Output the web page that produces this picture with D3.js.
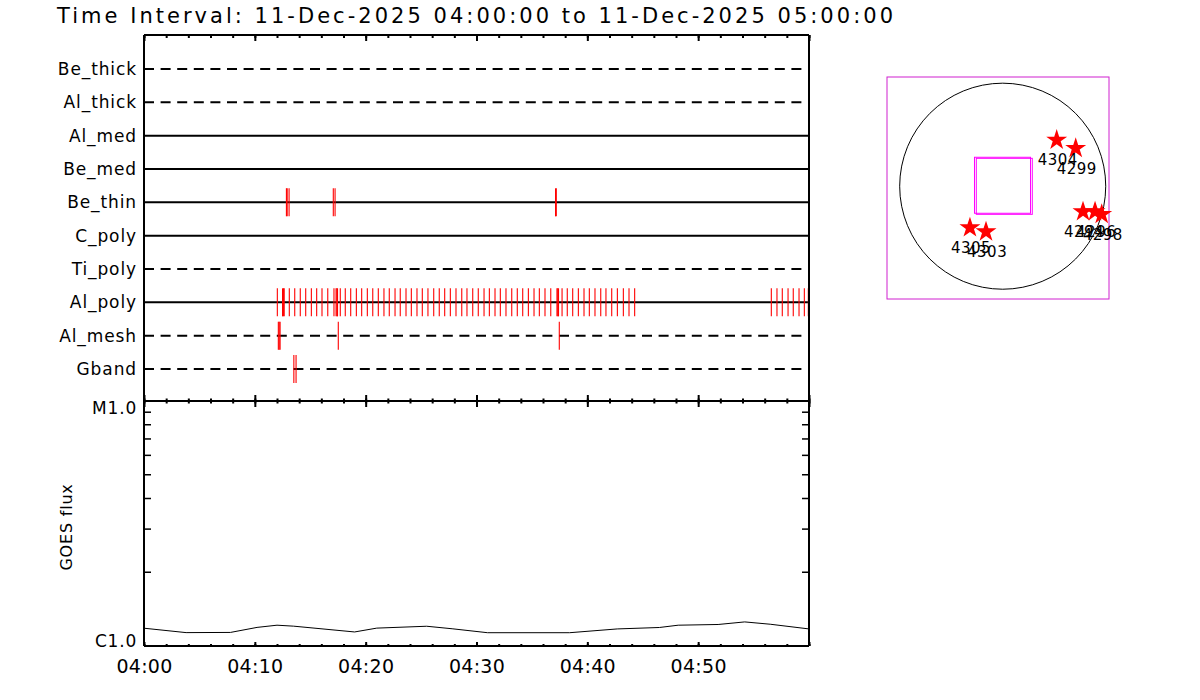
<!DOCTYPE html>
<html>
<head>
<meta charset="utf-8">
<script src="https://cdn.jsdelivr.net/npm/d3@7"></script>
<style>
  body { margin: 0; background: #fff; }
  text { font-family: "DejaVu Sans", sans-serif; fill: #000; }
</style>
</head>
<body>
<div id="chart"></div>
<script>
// ---- datos ----
const title = "Time Interval: 11-Dec-2025 04:00:00 to 11-Dec-2025 05:00:00";
const tStart = new Date("2025-12-11T04:00:00Z");
const tEnd = new Date("2025-12-11T05:00:00Z");

const channels = ["Be_thick", "Al_thick", "Al_med", "Be_med", "Be_thin",
                  "C_poly", "Ti_poly", "Al_poly", "Al_mesh", "Gband"];
// canales sin datos (linea a trazos)
const offChannels = ["Be_thick", "Al_thick", "Ti_poly", "Al_mesh", "Gband"];

// tiempos de eventos, minutos desde 04:00
const beThinEvents = [12.85, 12.92, 13.09, 17.08, 17.24, 37.13, 37.20];
const alPolyEvents = [12.03, 12.50, 12.58, 12.65, 13.11, 13.60, 14.10, 14.59, 15.10, 15.58,
  16.06, 16.58, 17.14, 17.33, 17.40, 17.46, 17.71, 18.16, 18.65, 19.16, 19.64, 20.15, 20.64,
  21.14, 21.65, 22.13, 22.65, 23.12, 23.64, 24.12, 24.63, 25.11, 25.62, 26.14, 26.64,
  27.13, 27.64, 28.15, 28.67, 29.14, 29.66, 30.16, 30.68, 31.16, 31.67, 32.15, 32.66,
  33.18, 33.68, 34.17, 34.68, 35.19, 35.67, 36.18, 36.70, 37.26, 37.33, 37.40, 37.72,
  38.19, 38.68, 39.19, 39.70, 40.18, 40.69, 41.21, 41.68, 42.20, 42.71, 43.25, 43.76,
  44.27, 56.60, 57.11, 57.59, 58.11, 58.58, 59.10, 59.58, 59.94];
const alMeshEvents = [12.12, 12.20, 12.28, 17.53, 37.47];
const gbandEvents = [13.52, 13.72];

// GOES, minutos desde 04:00 y flujo (W/m^2)
const goesMin  = [0, 3.8, 7.8, 10.2, 12.0, 13.5, 19.0, 21.0, 25.5, 27.8,
                  31.0, 38.4, 42.7, 46.5, 48.2, 51.8, 54.2, 56.5, 60];
const goesFlux = [1.182e-6, 1.134e-6, 1.136e-6, 1.191e-6, 1.216e-6, 1.205e-6, 1.141e-6,
                  1.183e-6, 1.204e-6, 1.176e-6, 1.133e-6, 1.133e-6, 1.174e-6, 1.190e-6,
                  1.216e-6, 1.224e-6, 1.254e-6, 1.227e-6, 1.174e-6];
const goesTicks = [1e-6, 1e-5];
const goesTickLabels = ["C1.0", "M1.0"];

// regiones activas (arcsec) y campo de vision
const arNames = ["4304", "4299", "4305", "4303", "4294", "4296", "4298"];
const arX = [511, 691, -310, -158, 760, 874, 937];
const arY = [437, 359, -393, -431, -241, -241, -266];
const fovX = [-2, 15];
const fovY = [9, -1];
const fovSize = 530;
const sunRadius = 975;
const mapXRange = [-1095, 1006];
const mapYRange = [-1068, 1034];

// ---- configuracion ----
const width = 1200, height = 700;
const left = 144, right = 809;
const topY = 35, midY = 401, botY = 646;

const svg = d3.select("#chart").append("svg")
  .attr("width", width).attr("height", height);

const x = d3.scaleUtc().domain([tStart, tEnd]).range([left, right]);
const toDate = m => new Date(tStart.getTime() + m * 60000);

const yRow = d3.scalePoint().domain(channels).range([69, 369]);
const yGoes = d3.scaleLog().domain([1e-6, 1e-5]).range([botY, midY]);

// titulo
svg.append("text")
  .attr("x", 57).attr("y", 23)
  .attr("font-size", 21)
  .attr("textLength", 836).attr("lengthAdjust", "spacing")
  .text(title);

// ---- panel superior: canales ----
const rows = svg.append("g");
rows.selectAll("line.row")
  .data(channels)
  .enter().append("line")
  .attr("class", "row")
  .attr("x1", left).attr("x2", right)
  .attr("y1", d => yRow(d)).attr("y2", d => yRow(d))
  .attr("stroke", "#000").attr("stroke-width", 2)
  .attr("stroke-dasharray", d => offChannels.includes(d) ? "10,6.6" : null);

rows.selectAll("text.row")
  .data(channels)
  .enter().append("text")
  .attr("class", "row")
  .attr("x", 137).attr("y", d => yRow(d))
  .attr("dy", "0.36em")
  .attr("text-anchor", "end")
  .attr("font-size", 17)
  .attr("letter-spacing", 0.9)
  .text(d => d);

const events = [
  {ch: "Be_thin", times: beThinEvents},
  {ch: "Al_poly", times: alPolyEvents},
  {ch: "Al_mesh", times: alMeshEvents},
  {ch: "Gband", times: gbandEvents}
];
events.forEach(ev => {
  rows.selectAll(null)
    .data(ev.times)
    .enter().append("line")
    .attr("x1", d => x(toDate(d))).attr("x2", d => x(toDate(d)))
    .attr("y1", yRow(ev.ch) - 14).attr("y2", yRow(ev.ch) + 14)
    .attr("stroke", "#ff0000").attr("stroke-width", 1.1);
});

// ---- panel GOES ----
const line = d3.line()
  .x((d, i) => x(toDate(goesMin[i])))
  .y(d => yGoes(d));
svg.append("path")
  .datum(goesFlux)
  .attr("d", line)
  .attr("fill", "none")
  .attr("stroke", "#000").attr("stroke-width", 1);

// marcas menores log (2..9 e-6) a ambos lados
const minorFlux = yGoes.ticks().filter(v => v > 1e-6 && v < 1e-5);
svg.append("g").selectAll("line")
  .data(minorFlux)
  .enter().append("line")
  .attr("x1", left).attr("x2", left + 7)
  .attr("y1", d => yGoes(d)).attr("y2", d => yGoes(d))
  .attr("stroke", "#000").attr("stroke-width", 1.5);
svg.append("g").selectAll("line")
  .data(minorFlux)
  .enter().append("line")
  .attr("x1", right - 7).attr("x2", right)
  .attr("y1", d => yGoes(d)).attr("y2", d => yGoes(d))
  .attr("stroke", "#000").attr("stroke-width", 1.5);

svg.append("g").selectAll("text")
  .data(goesTicks)
  .enter().append("text")
  .attr("x", 137)
  .attr("y", (d, i) => yGoes(d) + (i === 0 ? -5 : 7))
  .attr("dy", "0.36em")
  .attr("text-anchor", "end")
  .attr("font-size", 17)
  .attr("letter-spacing", 0.8)
  .text((d, i) => goesTickLabels[i]);

svg.append("text")
  .attr("transform", "translate(72,527) rotate(-90)")
  .attr("text-anchor", "middle")
  .attr("font-size", 16)
  .attr("letter-spacing", 0.8)
  .text("GOES flux");

// ---- ejes de tiempo ----
function timeTicks(y, minutes, up, down, w) {
  const ax = d3.axisBottom(x)
    .ticks(d3.utcMinute.every(minutes))
    .tickSize(up + down)
    .tickFormat("");
  svg.append("g")
    .attr("transform", `translate(0,${y - up})`)
    .call(ax)
    .call(g => g.select(".domain").remove())
    .selectAll("line").attr("stroke-width", w);
}
timeTicks(topY, 2, 0, 3, 2);
timeTicks(topY, 10, 0, 6, 2);
timeTicks(midY, 2, 2.5, 2.5, 2);
timeTicks(midY, 10, 6, 6, 2);
timeTicks(botY, 2, 2, 0, 2);
timeTicks(botY, 10, 4, 0, 2);

const labelAxis = d3.axisBottom(x)
  .tickValues(d3.utcMinute.every(10).range(tStart, tEnd))
  .tickFormat(d3.utcFormat("%H:%M"))
  .tickSize(0).tickPadding(14);
svg.append("g")
  .attr("transform", `translate(0,${botY})`)
  .call(labelAxis)
  .call(g => g.select(".domain").remove())
  .selectAll("text")
  .attr("font-family", "DejaVu Sans")
  .attr("font-size", 19)
  .attr("letter-spacing", 0.3);

// marcos
const frame = svg.append("g").attr("stroke", "#000").attr("stroke-width", 2).attr("fill", "none");
frame.append("path").attr("d", `M${left},${topY}H${right}`);
frame.append("path").attr("d", `M${left},${midY}H${right}`);
frame.append("path").attr("d", `M${left},${botY}H${right}`);
frame.append("path").attr("d", `M${left},${topY}V${botY}`);
frame.append("path").attr("d", `M${right},${topY}V${botY}`);

// ---- mapa solar ----
const sx = d3.scaleLinear().domain(mapXRange).range([887, 1109]);
const sy = d3.scaleLinear().domain(mapYRange).range([299, 77]);
const map = svg.append("g");

map.append("rect")
  .attr("x", sx(mapXRange[0])).attr("y", sy(mapYRange[1]))
  .attr("width", sx(mapXRange[1]) - sx(mapXRange[0]))
  .attr("height", sy(mapYRange[0]) - sy(mapYRange[1]))
  .attr("fill", "none").attr("stroke", "#d020d0").attr("stroke-width", 1);

map.append("circle")
  .attr("cx", sx(0)).attr("cy", sy(0))
  .attr("r", sx(sunRadius) - sx(0))
  .attr("fill", "none").attr("stroke", "#000").attr("stroke-width", 1);

map.selectAll("rect.fov")
  .data(fovX)
  .enter().append("rect")
  .attr("class", "fov")
  .attr("x", (d, i) => sx(d - fovSize / 2))
  .attr("y", (d, i) => sy(fovY[i] + fovSize / 2))
  .attr("width", sx(fovSize) - sx(0))
  .attr("height", sx(fovSize) - sx(0))
  .attr("fill", "none").attr("stroke", "#ff00ff").attr("stroke-width", 1);

const star = d3.symbol(d3.symbolStar, 136);
map.selectAll("path.star")
  .data(arNames)
  .enter().append("path")
  .attr("class", "star")
  .attr("d", star)
  .attr("transform", (d, i) => `translate(${sx(arX[i])},${sy(arY[i])})`)
  .attr("fill", "#ff0000");

map.selectAll("text.ar")
  .data(arNames)
  .enter().append("text")
  .attr("class", "ar")
  .attr("x", (d, i) => sx(arX[i]) - 19)
  .attr("y", (d, i) => sy(arY[i]) + 20)
  .attr("dy", "0.36em")
  .attr("font-size", 15)
  .attr("letter-spacing", 0.5)
  .text(d => d);
</script>
</body>
</html>
